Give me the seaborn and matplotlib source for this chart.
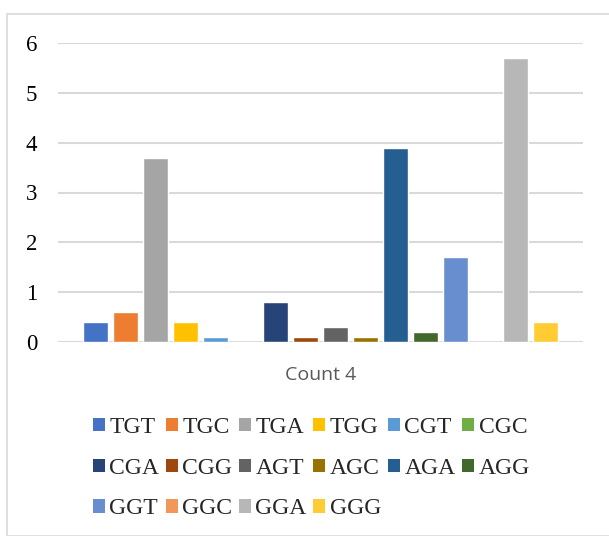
import pandas as pd
import seaborn as sns
import matplotlib.pyplot as plt
from matplotlib.patches import Patch, Rectangle

# data
codons = ['TGT', 'TGC', 'TGA', 'TGG', 'CGT', 'CGC',
          'CGA', 'CGG', 'AGT', 'AGC', 'AGA', 'AGG',
          'GGT', 'GGC', 'GGA', 'GGG']
counts = [0.4, 0.6, 3.7, 0.4, 0.1, 0.0,
          0.8, 0.1, 0.3, 0.1, 3.9, 0.2,
          1.7, 0.0, 5.7, 0.4]
category = 'Count 4'
colors = ['#4472C4', '#ED7D31', '#A5A5A5', '#FFC000', '#5B9BD5', '#70AD47',
          '#264478', '#9E480E', '#636363', '#997300', '#255E91', '#43682B',
          '#698ED0', '#F1975A', '#B7B7B7', '#FFCD33']
yticks = [0, 1, 2, 3, 4, 5, 6]

df = pd.DataFrame({'cat': [category] * len(codons), 'codon': codons, 'count': counts})

sns.set_theme(style='white')
plt.rcParams['font.family'] = ['Liberation Serif', 'DejaVu Sans']

fig = plt.figure(figsize=(6.09, 5.36), dpi=100)
ax = fig.add_axes([58 / 609, 1 - 342 / 536, 525 / 609, 299 / 536])

sns.barplot(data=df, x='cat', y='count', hue='codon', hue_order=codons,
            palette=colors, width=0.8, gap=0.183, saturation=1,
            legend=False, ax=ax)

ax.set_ylim(0, 6)
ax.set_xlim(-0.4376, 0.4376)
ax.set_yticks(yticks)
ax.set_yticklabels([str(t) for t in yticks], fontsize=16.5, color='black')
ax.set_axisbelow(True)
ax.yaxis.grid(True, color='#D9D9D9', linewidth=1.5)
ax.tick_params(axis='y', length=0, pad=15)
ax.tick_params(axis='x', length=0, pad=17)
ax.set_xticks([0])
ax.set_xticklabels([category], fontsize=14, color='#595959', family='Open Sans')
ax.set_xlabel('')
ax.set_ylabel('')
for s in ax.spines.values():
    s.set_visible(False)

# legend fills column by column, so reorder to read row by row like the original
ncol = 6
order = [i for c in range(ncol) for i in range(c, len(codons), ncol)]
handles = [Patch(facecolor=colors[i], edgecolor='none') for i in order]
labels = [codons[i] for i in order]
fig.legend(handles, labels, ncol=ncol, loc='upper left',
           bbox_to_anchor=(0.133, 0.244), frameon=False, fontsize=17,
           handlelength=0.5, handleheight=0.5, handletextpad=0.2,
           columnspacing=0.28, labelspacing=0.83, borderpad=0)

# outer chart border
fig.patches.append(Rectangle((7 / 609, 0), 1 - 7 / 609 + 0.01, 1 - 14 / 536,
                             transform=fig.transFigure, fill=False,
                             edgecolor='#D9D9D9', linewidth=1.2))

fig.savefig('out.png', dpi=100)
